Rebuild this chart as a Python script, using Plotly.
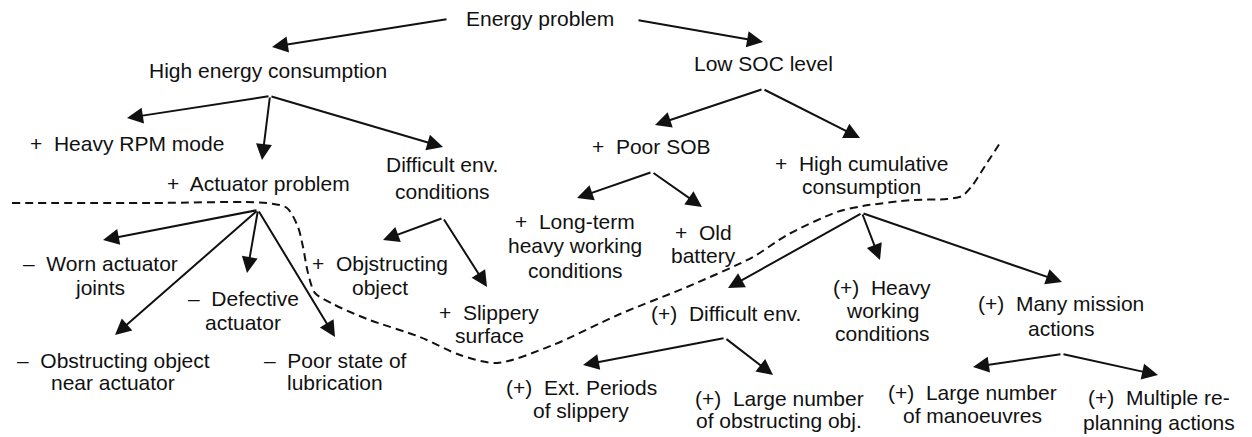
import plotly.graph_objects as go

# ---- content -------------------------------------------------------------
labels = [
    "Energy problem",
    "High energy consumption",
    "Low SOC level",
    "+\u00a0 Heavy RPM mode",
    "+\u00a0 Actuator problem",
    "Difficult env.\nconditions",
    "+\u00a0 Poor SOB",
    "+\u00a0 High cumulative\nconsumption",
    "+\u00a0 Long-term\nheavy working\nconditions",
    "+\u00a0 Old\nbattery",
    "\u2013\u00a0 Worn actuator\njoints",
    "\u2013\u00a0 Defective\nactuator",
    "\u2013\u00a0 Obstructing object\nnear actuator",
    "\u2013\u00a0 Poor state of\nlubrication",
    "+\u00a0 Objstructing\nobject",
    "+\u00a0 Slippery\nsurface",
    "(+)\u00a0 Difficult env.",
    "(+)\u00a0 Heavy\nworking\nconditions",
    "(+)\u00a0 Many mission\nactions",
    "(+)\u00a0 Ext. Periods\nof slippery",
    "(+)\u00a0 Large number\nof obstructing obj.",
    "(+)\u00a0 Large number\nof manoeuvres",
    "(+)\u00a0 Multiple re-\nplanning actions",
]

# edges: (parent, child)
edges = [
    (0, 1), (0, 2),
    (1, 3), (1, 4), (1, 5),
    (2, 6), (2, 7),
    (6, 8), (6, 9),
    (4, 10), (4, 11), (4, 12), (4, 13),
    (5, 14), (5, 15),
    (7, 16), (7, 17), (7, 18),
    (16, 19), (16, 20),
    (18, 21), (18, 22),
]

# ---- layout (pixel positions) -------------------------------------------
node_x = [540, 268, 763, 127, 258, 442, 651, 861, 575, 703, 100, 243, 113,
          335, 380, 489, 726, 882, 1061, 581, 779, 972, 1159]
node_y = [18, 70, 63, 143, 183, 164, 146, 163, 221, 232, 263, 298, 360,
          360, 263, 312, 313, 287, 303, 387, 398, 392, 397]
line_gap = [0, 0, 0, 0, 0, 27, 0, 23, 24.5, 23, 24, 24, 22,
            22, 24, 23, 0, 23, 25, 23, 22, 23, 25]

# arrow tails (by parent) and tips (by edge)
tail_pts = {1: (270, 96), 2: (763, 89), 6: (652, 172), 4: (258, 210),
            5: (443, 218), 7: (862, 213), 16: (725, 338), 18: (1062, 354)}
root_tails = {(0, 1): (448, 19), (0, 2): (637, 20)}
tip_pts = [(272, 47), (763, 42),
           (127, 118), (262, 160), (443, 147),
           (655, 125), (860, 138),
           (577, 198), (702, 207),
           (103, 240), (247, 273), (115, 335), (335, 337),
           (383, 240), (487, 287),
           (728, 288), (880, 260), (1062, 282),
           (583, 365), (773, 375),
           (973, 367), (1158, 375)]

# dashed separating curve
dash_x = [12, 150, 267, 287, 298, 303, 308, 315, 333, 367, 420, 460, 497,
          553, 620, 687, 753, 787, 837, 863, 913, 947, 962, 972, 985, 1000]
dash_y = [203, 203, 203, 208, 227, 247, 273, 293, 304, 319, 337, 355, 363,
          345, 314, 287, 257, 235, 212, 206, 200, 199, 196, 186, 166, 143]

FONT = dict(family="Liberation Sans, Arial, sans-serif", size=21, color="#111111")
INK = "#111111"
TEXT_SHIFT = 0  # vertical tweak for text placement

fig = go.Figure()
fig.add_trace(go.Scatter(
    x=dash_x, y=dash_y, mode="lines",
    line=dict(color=INK, width=2, dash="8px,5px", shape="spline", smoothing=0.8),
    hoverinfo="skip", showlegend=False))

annotations = []
for i, lab in enumerate(labels):
    for k, line in enumerate(lab.split("\n")):
        annotations.append(dict(
            x=node_x[i], y=node_y[i] + k * line_gap[i] + TEXT_SHIFT,
            xref="x", yref="y",
            text=line, showarrow=False, font=FONT,
            xanchor="center", yanchor="middle"))

for e, (p, c) in enumerate(edges):
    tail = root_tails.get((p, c)) or tail_pts[p]
    tip = tip_pts[e]
    annotations.append(dict(
        x=tip[0], y=tip[1], ax=tail[0], ay=tail[1],
        xref="x", yref="y", axref="x", ayref="y",
        text="", showarrow=True, arrowhead=2, arrowsize=1.6, arrowwidth=2,
        arrowcolor=INK, standoff=0))

fig.update_layout(
    width=1252, height=437,
    margin=dict(l=0, r=0, t=0, b=0),
    paper_bgcolor="white", plot_bgcolor="white",
    xaxis=dict(range=[0, 1252], visible=False, fixedrange=True),
    yaxis=dict(range=[437, 0], visible=False, fixedrange=True),
    annotations=annotations,
    showlegend=False,
)

fig.write_html(
    "out.html",
    config={"displayModeBar": False},
    post_script="document.body.style.margin='0px';document.body.style.overflow='hidden';",
)
